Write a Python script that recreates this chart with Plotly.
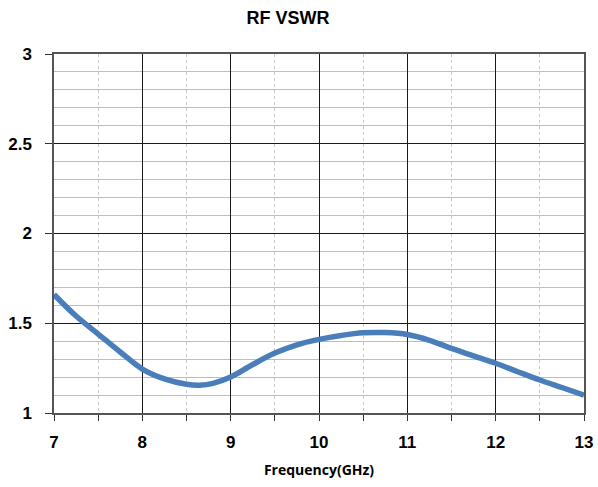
import plotly.graph_objects as go

freq = [7.0, 7.25, 7.5, 7.75, 8.0, 8.25, 8.5, 8.65, 8.8, 9.0, 9.25, 9.5, 9.75, 10.0, 10.25, 10.5, 10.75, 11.0, 11.25, 11.5, 11.75, 12.0, 12.25, 12.5, 12.75, 13.0]
vswr = [1.66, 1.54, 1.44, 1.34, 1.245, 1.19, 1.16, 1.155, 1.165, 1.20, 1.27, 1.334, 1.38, 1.41, 1.432, 1.447, 1.448, 1.437, 1.405, 1.36, 1.318, 1.277, 1.23, 1.184, 1.142, 1.10]

x_ticks = [7, 8, 9, 10, 11, 12, 13]
y_ticks = [1, 1.5, 2, 2.5, 3]
y_labels = ["1", "1.5", "2", "2.5", "3"]

fig = go.Figure()
fig.add_trace(go.Scatter(
    x=freq, y=vswr, mode="lines",
    line=dict(color="#4a7ebb", width=5.5, shape="spline", smoothing=1.0),
    showlegend=False, hoverinfo="skip",
))

fig.update_layout(
    width=598, height=487,
    margin=dict(l=54, r=14, t=54, b=74),
    paper_bgcolor="white", plot_bgcolor="white",
    title=dict(text="<b>RF VSWR</b>", x=0.4816, xanchor="center", y=0.963, yanchor="middle",
               font=dict(family="Liberation Sans, Arial", size=18, color="black")),
    font=dict(family="Liberation Sans, Arial", color="black"),
)

fig.update_xaxes(
    range=[7, 13], tickvals=x_ticks, ticktext=[f"<b>{v}</b>" for v in x_ticks],
    tickfont=dict(size=17, family="Liberation Sans, Arial", color="black"),
    automargin=False, ticklabelstandoff=7,
    showgrid=True, gridcolor="#1a1a1a", gridwidth=1.3,
    ticks="outside", ticklen=6, tickcolor="#333333", tickwidth=1.3,
    showline=True, linecolor="#555555", linewidth=1.5, mirror=True,
    zeroline=False,
    minor=dict(dtick=0.5, tick0=7, showgrid=True, gridcolor="#c8c8c8", griddash="dot", gridwidth=1,
               ticks="outside", ticklen=6, tickcolor="#333333", tickwidth=1.3),
    title=dict(text="<b>Frequency(GHz)</b>", font=dict(family="Open Sans, Lato", size=14, color="black"), standoff=14),
)

fig.update_yaxes(
    range=[1, 3], tickvals=y_ticks, ticktext=[f"<b>{t}</b>" for t in y_labels],
    tickfont=dict(size=17, family="Liberation Sans, Arial", color="black"),
    automargin=False, ticklabelstandoff=10,
    showgrid=True, gridcolor="#1a1a1a", gridwidth=1.3,
    ticks="outside", ticklen=7, tickcolor="#333333", tickwidth=1.3,
    showline=True, linecolor="#555555", linewidth=1.5, mirror=True,
    zeroline=False,
    minor=dict(dtick=0.1, tick0=1, showgrid=True, gridcolor="#bdbdbd", griddash="solid", gridwidth=1.3, ticks=""),
)

fig.write_html("out.html", config={"displayModeBar": False},
               post_script="document.body.style.margin='0';document.body.style.overflow='hidden';")
